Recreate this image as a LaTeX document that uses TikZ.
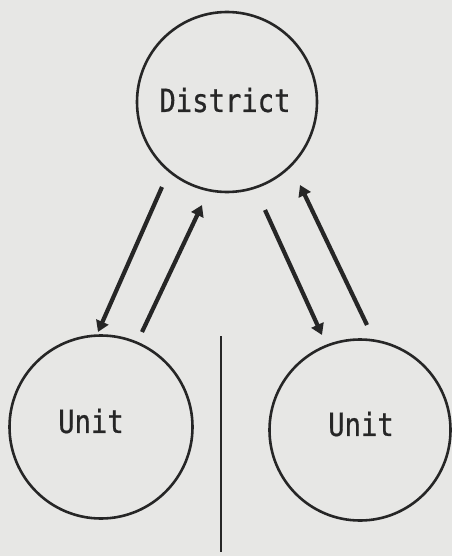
\documentclass[tikz,border=0pt]{standalone}
\usepackage{fontspec}
\newfontfamily\plotfont[FakeStretch=0.85,FakeBold=0.6]{DejaVu Sans Mono}
\usetikzlibrary{arrows.meta,calc}
\definecolor{paper}{RGB}{231,231,229}
\definecolor{ink}{RGB}{38,38,38}
\begin{document}
\begin{tikzpicture}[x=1pt,y=-1pt,
  ring/.style={circle,draw=ink,line width=2.6pt,inner sep=0pt},
  tag/.style={font=\plotfont\fontsize{32}{32}\selectfont,text=ink,inner sep=0pt},
  flow/.style={draw=ink,line width=4.2pt,-{Triangle[length=11pt,width=13pt]}},
  divider/.style={draw=ink,line width=2.4pt}]
% paper and page frame
\fill[paper] (0,0) rectangle (452,556);
\useasboundingbox (0,0) rectangle (452,556);

% the three circles
\node[ring,minimum size=180pt] (D)  at (227,102) {};
\node[ring,minimum size=183pt] (U1) at (101,427) {};
\node[ring,minimum size=181pt] (U2) at (360,430) {};

% their labels
\node[tag] (tD)  at (225,100) {District};
\node[tag] (tU1) at (91,421)  {Unit};
\node[tag] (tU2) at (361,424) {Unit};

% paired flows between district and units
\draw[flow] ($(D)+(-65,85)$)  -- ($(U1)+(-3,-95)$);
\draw[flow] ($(U1)+(41,-95)$) -- ($(D)+(-25,103)$);
\draw[flow] ($(D)+(38,108)$)  -- ($(U2)+(-38,-95)$);
\draw[flow] ($(U2)+(7,-105)$) -- ($(D)+(73,83)$);

% divider between the two units
\coordinate (sepTop) at (221,336);
\coordinate (sepBot) at (221,552);
\draw[divider] (sepTop) -- (sepBot);
\end{tikzpicture}
\end{document}
